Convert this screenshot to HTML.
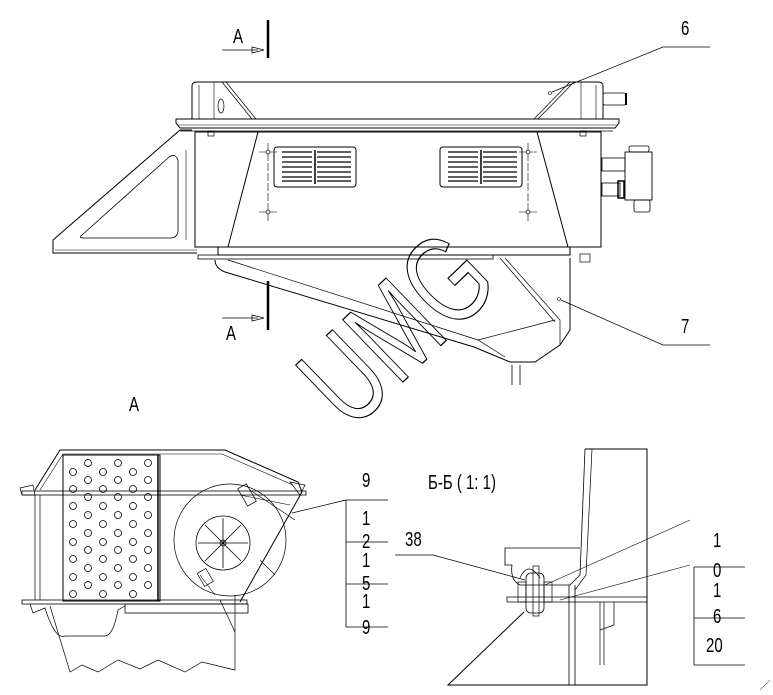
<!DOCTYPE html>
<html><head><meta charset="utf-8"><style>
html,body{margin:0;padding:0;background:#fff;}
svg{display:block;}
text{font-family:"Liberation Sans",sans-serif;fill:#000;}
</style></head><body>
<svg width="773" height="695" viewBox="0 0 773 695" xmlns="http://www.w3.org/2000/svg">
<g fill="none" stroke="#000" stroke-width="1">
<line x1="268" y1="20" x2="268" y2="58" stroke-width="2.5"/>
<line x1="222" y1="50" x2="258" y2="50" stroke-width="0.8"/>
<path d="M252 47 L264 50 L252 53 Z" stroke-width="0.8"/>
<line x1="268" y1="281" x2="268" y2="330" stroke-width="2.5"/>
<line x1="222" y1="318" x2="258" y2="318" stroke-width="0.8"/>
<path d="M252 315 L264 318 L252 321 Z" stroke-width="0.8"/>
<path d="M192 119 L192 86 Q192 82 197 82 L598 82 Q603 82 603 86 L603 119"/>
<path d="M199 119 L199 85 M214 82 L214 119 M581 82 L581 119 M596 85 L596 119" stroke-width="0.6"/>
<path d="M222 82 L252 119 M226 82 L256 119 M574 82 L538 119 M570 82 L534 119" stroke-width="0.7"/>
<ellipse cx="221" cy="106" rx="3" ry="7" stroke-width="0.7"/>
<rect x="603" y="93" width="23" height="12" rx="2" stroke-width="0.8"/>
<line x1="626" y1="93" x2="626" y2="105" stroke-width="2"/>
<path d="M176 119 L619 119 L619 123 L615 128 L180 128 L176 123 Z"/>
<line x1="178" y1="125" x2="617" y2="125" stroke-width="0.6"/>
<line x1="180" y1="131" x2="613" y2="131" stroke-width="0.8"/>
<rect x="208" y="131" width="6" height="5" stroke-width="0.7"/>
<rect x="580" y="131" width="6" height="5" stroke-width="0.7"/>
<rect x="195" y="132" width="406" height="115"/>
<path d="M258 132 L228 247 M537 132 L568 247"/>
<rect x="274" y="147" width="82" height="40" rx="3"/>
<rect x="440" y="147" width="82" height="40" rx="3"/>
<g stroke-width="1.3">
<path d="M282 152h30M282 157h30M282 162h30M282 167h30M282 172h30M282 177h30M282 181h30M317 152h34M317 157h34M317 162h34M317 167h34M317 172h34M317 177h34M317 181h34"/>
<path d="M448 152h30M448 157h30M448 162h30M448 167h30M448 172h30M448 177h30M448 181h30M483 152h34M483 157h34M483 162h34M483 167h34M483 172h34M483 177h34M483 181h34"/>
</g>
<line x1="315" y1="150" x2="315" y2="184" stroke-width="1.5"/>
<line x1="481" y1="150" x2="481" y2="184" stroke-width="1.5"/>
<g stroke-width="0.6">
<path d="M259 152h18M268 143v78M259 212h18M519 152h18M528 143v78M519 212h18" stroke-dasharray="8 2"/>
<circle cx="268" cy="152" r="2"/><circle cx="268" cy="212" r="2"/><circle cx="528" cy="152" r="2"/><circle cx="528" cy="212" r="2"/>
</g>
<rect x="602" y="158" width="23" height="13" stroke-width="0.8"/>
<rect x="625" y="152" width="27" height="48" stroke-width="0.9"/>
<rect x="629" y="146" width="20" height="6" rx="2" stroke-width="0.8"/>
<rect x="602" y="183" width="18" height="13" stroke-width="0.8"/>
<rect x="618" y="181" width="6" height="17" stroke-width="1.5"/>
<rect x="634" y="200" width="16" height="12" rx="2" stroke-width="0.8"/>
<path d="M53 240 L180 130 L192 130 M53 240 L53 253 L197 253"/>
<path d="M55 250 L197 250" stroke-width="0.6"/>
<path d="M82 235 L168 158 Q175 152 178 160 L178 230 Q178 238 170 238 L84 238 Q78 238 82 235 Z" stroke-width="0.8"/>
<line x1="186" y1="150" x2="186" y2="240" stroke-width="0.6"/>
<rect x="218" y="247" width="352" height="8"/>
<rect x="198" y="255" width="295" height="4" stroke-width="0.8"/>
<path d="M215 260 Q215 268 225 272 L474 347 L510 362 L535 362 L560 345 L570 330 L570 258"/>
<path d="M228 260 L478 340 L505 357 M505 258 L560 320 L560 345 M500 258 L555 322 M478 340 L555 320" stroke-width="0.7"/>
<rect x="580" y="254" width="10" height="8" stroke-width="0.7"/>
<path d="M512 365 L512 385 M520 365 L520 385" stroke-width="0.8"/>
<path d="M552 92 L663 47 L710 47" stroke-width="0.7"/>
<circle cx="550" cy="93" r="1.5" stroke-width="0.6"/>
<path d="M561 300 L663 345 L710 345" stroke-width="0.7"/>
<circle cx="559" cy="299" r="1.5" stroke-width="0.6"/>
</g>
<text transform="translate(395,327) rotate(-44) scale(0.75,1.05)" x="0" y="43" text-anchor="middle" font-size="120" style="fill:none;stroke:#000;stroke-width:1.2">UMG</text>
<g font-size="20">
<text transform="translate(233,43) scale(0.75,1)">A</text>
<text transform="translate(226,340) scale(0.75,1)">A</text>
<text transform="translate(681,35) scale(0.75,1)">6</text>
<text transform="translate(681,333) scale(0.75,1)">7</text>
<text transform="translate(129,411) scale(0.75,1)">A</text>
</g>
<g fill="none" stroke="#000" stroke-width="1">
<path d="M35 490 L60 450 L225 450 L298 482 L302 492 L240 602"/>
<path d="M40 490 L63 454 L222 454 L293 485" stroke-width="0.6"/>
<path d="M20 488 L33 485 L35 495 L22 495 Z M290 482 L305 485 L300 495 Z" stroke-width="0.7"/>
<rect x="22" y="491" width="284" height="4" stroke-width="0.8"/>
<rect x="22" y="600" width="225" height="4" stroke-width="0.8"/>
<rect x="125" y="604" width="123" height="9" stroke-width="0.8"/>
<path d="M35 495 L35 600 M40 495 L40 600" stroke-width="0.7"/>
<rect x="63" y="455" width="97" height="146"/>
<path d="M158 455 L158 601" stroke-width="1.5"/>
<path d="M30 604 L33 613 L45 608 Q55 640 65 636 L105 636 Q113 636 118 610 L125 606" stroke-width="0.7"/>
<path d="M50 606 L70 672 L82 665 L98 672 L118 660 L140 669 L158 660 L185 672 L202 662 L235 670 L235 595" stroke-width="0.7"/>
<path d="M220 600 L235 632" stroke-width="0.7"/>
<circle cx="230" cy="540" r="56" stroke-width="0.7"/>
<circle cx="223" cy="543" r="27" stroke-width="0.8"/>
<circle cx="223" cy="543" r="3" stroke-width="0.7"/>
<path d="M223 543 L223 518 M223 543 L241 525 M223 543 L248 543 M223 543 L241 561 M223 543 L223 568 M223 543 L205 561 M223 543 L198 543 M223 543 L205 525" stroke-width="0.8"/>
<path d="M240 495 L290 505 M250 490 L295 520 M260 560 L275 575 M200 575 L215 595" stroke-width="0.6"/>
<rect x="242" y="485" width="10" height="20" transform="rotate(-30 247 495)" stroke-width="0.7"/>
<rect x="200" y="570" width="10" height="15" transform="rotate(-30 205 577)" stroke-width="0.7"/>
<path d="M292 513 L346 500" stroke-width="0.7"/>
<path d="M346 500 L346 627 M346 500 L388 500 M346 542 L388 542 M346 584 L388 584 M346 627 L388 627" stroke-width="0.8"/>
</g>
<g fill="none" stroke="#000" stroke-width="0.8">
<circle cx="88" cy="463" r="3.5"/><circle cx="118" cy="463" r="3.5"/><circle cx="148" cy="463" r="3.5"/>
<circle cx="73" cy="472" r="3.5"/><circle cx="103" cy="472" r="3.5"/><circle cx="133" cy="472" r="3.5"/><circle cx="148" cy="480" r="3.5"/>
<circle cx="88" cy="480" r="3.5"/><circle cx="118" cy="480" r="3.5"/>
<circle cx="73" cy="489" r="3.5"/><circle cx="103" cy="489" r="3.5"/><circle cx="133" cy="489" r="3.5"/>
<circle cx="88" cy="497" r="3.5"/><circle cx="118" cy="497" r="3.5"/><circle cx="148" cy="497" r="3.5"/>
<circle cx="73" cy="506" r="3.5"/><circle cx="103" cy="506" r="3.5"/><circle cx="133" cy="506" r="3.5"/>
<circle cx="88" cy="515" r="3.5"/><circle cx="118" cy="515" r="3.5"/><circle cx="148" cy="515" r="3.5"/>
<circle cx="73" cy="524" r="3.5"/><circle cx="103" cy="524" r="3.5"/><circle cx="133" cy="524" r="3.5"/>
<circle cx="88" cy="533" r="3.5"/><circle cx="118" cy="533" r="3.5"/><circle cx="148" cy="533" r="3.5"/>
<circle cx="73" cy="542" r="3.5"/><circle cx="103" cy="542" r="3.5"/><circle cx="133" cy="542" r="3.5"/>
<circle cx="88" cy="550" r="3.5"/><circle cx="118" cy="550" r="3.5"/><circle cx="148" cy="550" r="3.5"/>
<circle cx="73" cy="559" r="3.5"/><circle cx="103" cy="559" r="3.5"/><circle cx="133" cy="559" r="3.5"/>
<circle cx="88" cy="568" r="3.5"/><circle cx="118" cy="568" r="3.5"/><circle cx="148" cy="568" r="3.5"/>
<circle cx="73" cy="577" r="3.5"/><circle cx="103" cy="577" r="3.5"/><circle cx="133" cy="577" r="3.5"/>
<circle cx="88" cy="585" r="3.5"/><circle cx="118" cy="585" r="3.5"/><circle cx="148" cy="585" r="3.5"/>
<circle cx="73" cy="594" r="3.5"/><circle cx="103" cy="594" r="3.5"/><circle cx="133" cy="594" r="3.5"/>
</g>
<g font-size="20">
<text transform="translate(362,487) scale(0.75,1)">9</text>
<text transform="translate(362,525) scale(0.75,1)">1</text>
<text transform="translate(362,548) scale(0.75,1)">2</text>
<text transform="translate(362,567) scale(0.75,1)">1</text>
<text transform="translate(362,590) scale(0.75,1)">5</text>
<text transform="translate(362,608) scale(0.75,1)">1</text>
<text transform="translate(362,634) scale(0.75,1)">9</text>
<text transform="translate(405,546) scale(0.75,1)">38</text>
<text transform="translate(428,489) scale(0.75,1)">Б-Б ( 1: 1)</text>
<text transform="translate(713,547) scale(0.75,1)">1</text>
<text transform="translate(713,577) scale(0.75,1)">0</text>
<text transform="translate(713,597) scale(0.75,1)">1</text>
<text transform="translate(713,623) scale(0.75,1)">6</text>
<text transform="translate(706,652) scale(0.75,1)">20</text>
</g>
<g fill="none" stroke="#000" stroke-width="1">
<path d="M395 555 L433 555 L525 580" stroke-width="0.7"/>
<path d="M585 449 L647 449 L647 685 L448 685 L524 612"/>
<path d="M585 449 L580 575 L570 585 L520 585 Q510 580 512 565 L505 565 L505 548 L580 548" stroke-width="0.8"/>
<path d="M592 449 L586 575 L575 590" stroke-width="0.7"/>
<path d="M569 585 L569 685 M575 585 L575 685" stroke-width="0.8"/>
<path d="M507 597 L647 597 L647 602 L507 602 Z" stroke-width="0.8"/>
<path d="M520 578 Q528 560 540 578" stroke-width="0.7"/>
<rect x="526" y="573" width="18" height="40" rx="5" stroke-width="0.8"/>
<rect x="533" y="566" width="6" height="50" stroke-width="0.7"/>
<rect x="518" y="582" width="8" height="20" stroke-width="0.7"/>
<rect x="544" y="582" width="8" height="20" stroke-width="0.7"/>
<path d="M600 602 L600 665 M604 602 L604 665 M614 602 L614 625 L600 630" stroke-width="0.7"/>
<path d="M545 585 L690 520 M560 600 L690 565" stroke-width="0.6"/>
<path d="M694 567 L694 665 M694 567 L745 567 M694 618 L745 618 M694 665 L745 665" stroke-width="0.8"/>
<path d="M760 690 L770 680" stroke-width="0.5"/>
</g>
</svg>
</body></html>
